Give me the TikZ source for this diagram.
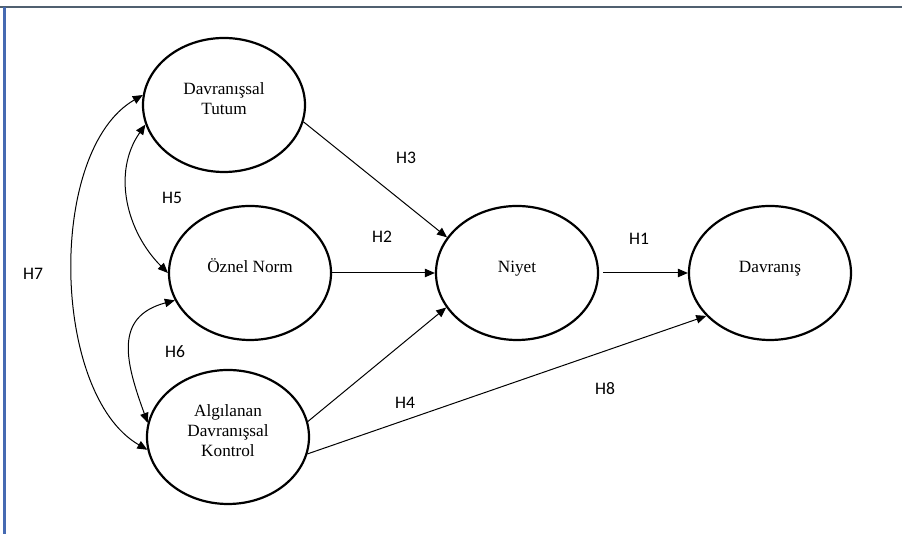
\documentclass[tikz,border=0pt]{standalone}
\usepackage{fontspec}
\setmainfont{Liberation Serif}
\newfontfamily\hypfont{Carlito}
\usetikzlibrary{arrows.meta,shapes.geometric}
\definecolor{frametop}{RGB}{80,96,112}
\definecolor{frameleft}{RGB}{70,106,178}
\newcommand\lifted[1]{\raisebox{0pt}[\height][\dimexpr\depth+4pt\relax]{\begin{tabular}{@{}c@{}}#1\end{tabular}}}
\tikzset{
	construct/.style={ellipse, draw, line width=1.1pt, minimum width=81pt, minimum height=67pt, inner sep=0pt, font=\fontsize{8.6}{10}\selectfont},
	hyp/.style={-{Triangle[length=5pt,width=4.2pt]}, line width=0.5pt},
	cov/.style={{Triangle[length=5pt,width=4.2pt]}-{Triangle[length=5pt,width=4.2pt]}, line width=0.5pt},
	hlabel/.style={font=\hypfont\fontsize{8.8}{10}\selectfont, inner sep=0pt}
}
\begin{document}
\begin{tikzpicture}[x=.5pt, y=.5pt]
		\useasboundingbox (0,0) rectangle (902,534);
		\draw[frametop, line width=1pt] (0,527) -- (902,527);
		\draw[frameleft, line width=1.2pt] (4.5,527) -- (4.5,0);
		\node[construct] (tutum) at (224,429) {\lifted{Davranışsal\\Tutum}};
		\node[construct] (norm) at (250,261) {\lifted{Öznel Norm}};
		\node[construct] (kontrol) at (228,97) {\lifted{Algılanan\\Davranışsal\\Kontrol}};
		\node[construct] (niyet) at (517,261) {\lifted{Niyet}};
		\node[construct] (davranis) at (770,261) {\lifted{Davranış}};
		\draw[hyp] (tutum.348) -- (niyet.153);
		\draw[hyp] (norm.east) -- (niyet.west);
		\draw[hyp] (kontrol.11) -- (niyet.206);
		\draw[hyp, shorten <=2pt] (niyet.east) -- (davranis.west);
		\draw[hyp] (kontrol.348) -- (davranis.214);
		\draw[cov] (tutum.194) to[out=235, in=135] (norm.180);
		\draw[cov] (norm.200) to[out=195, in=110, looseness=1.3] (kontrol.170);
		\draw[cov] (tutum.173) to[out=210, in=150, looseness=.8] (kontrol.189);
		\foreach \h/\x/\y in {H1/639/295, H2/382/297, H3/406/376, H4/405/131,
			H5/172/336, H6/175/182, H7/33/260, H8/605/145}
			\node[hlabel] (\h) at (\x,\y) {\h};
	\end{tikzpicture}
\end{document}
